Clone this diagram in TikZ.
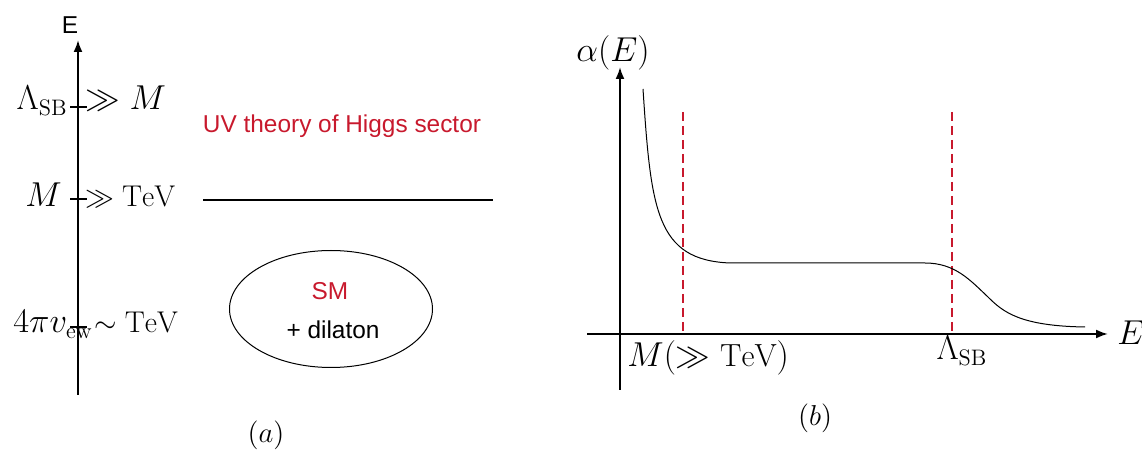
\documentclass[tikz,border=0pt]{standalone}
\usepackage{fontspec}
\newfontfamily\sansfont{Liberation Sans}
\usetikzlibrary{arrows.meta,shapes.geometric}
\definecolor{uvred}{RGB}{200,25,45}
\tikzset{
  axis/.style={line width=1pt,-{Latex[length=6pt,width=4.5pt]}},
  mathlabel/.style={inner sep=0pt,font=\fontsize{15}{18}\selectfont},
  biglabel/.style={inner sep=0pt,font=\fontsize{16}{19}\selectfont},
  textlabel/.style={inner sep=0pt,font=\sansfont\fontsize{12.2}{14}\selectfont},
  guide/.style={uvred,line width=0.8pt,dash pattern=on 4.5pt off 2.5pt},
}
\begin{document}
\begin{tikzpicture}[x=0.5pt,y=0.5pt]
  \useasboundingbox (0,0) rectangle (1142,450);
  % (a) energy axis
  \coordinate (ea0) at (78,55);
  \coordinate (ea1) at (78,410);
  \draw[axis] (ea0) -- (ea1);
  \node[textlabel] (elabel) at (70,425) {E};
  % ticks
  \foreach \y in {343,251,123}
    \draw[line width=0.6pt] (70,\y) -- (87,\y);
  % scales
  \node[biglabel,anchor=base east] (lsb) at (68,340) {$\Lambda_{\mathrm{SB}}$};
  \node[biglabel,anchor=base west] (lsbm) at (85,340) {$\gg M$};
  \node[biglabel,anchor=base east] (mlab) at (62,243) {$M$};
  \node[mathlabel,anchor=base west] (mtev) at (85,243) {$\gg \mathrm{TeV}$};
  \node[biglabel,anchor=base east] (vew) at (93,117) {$4\pi v_{\mathrm{ew}}$};
  \node[mathlabel,anchor=base west] (vtev) at (94,117) {$\sim \mathrm{TeV}$};
  % UV theory above the cut
  \node[textlabel,uvred] (uvth) at (342,324) {UV theory of Higgs sector};
  \coordinate (cut0) at (203,250);
  \coordinate (cut1) at (493,250);
  \draw[line width=1.3pt] (cut0) -- (cut1);
  % low energy theory
  \node[draw,ellipse,line width=0.5pt,minimum width=101.5pt,minimum height=58.5pt,inner sep=0pt] (smbox) at (331,141) {};
  \node[textlabel,uvred] (sm) at (330,159) {SM};
  \node[textlabel] (dil) at (333,120) {+ dilaton};
  \node[mathlabel] (capa) at (266,15) {$(a)$};
  % (b) running coupling
  \coordinate (ha0) at (587,116);
  \coordinate (ha1) at (1108,116);
  \coordinate (va0) at (620,60);
  \coordinate (va1) at (620,383);
  \draw[axis] (ha0) -- (ha1);
  \draw[axis] (va0) -- (va1);
  \node[biglabel] (alpha) at (613,397) {$\alpha(E)$};
  \node[biglabel,anchor=west] (elab) at (1117,117) {$E$};
  % thresholds
  \coordinate (mtop) at (683,338);
  \coordinate (mbot) at (683,116);
  \coordinate (ltop) at (952,338);
  \coordinate (lbot) at (952,116);
  \draw[guide] (mtop) -- (mbot);
  \draw[guide] (ltop) -- (lbot);
  \node[biglabel,anchor=base west] (mth) at (627,83) {$M(\gg\mathrm{TeV})$};
  \node[biglabel,anchor=base] (lth) at (962,90) {$\Lambda_{\mathrm{SB}}$};
  % coupling
  \draw[line width=0.5pt] (643,361) .. controls (651,240) and (656,190) .. (730,187)
    -- (925,187) .. controls (955,187) and (970,170) .. (988,153)
    .. controls (1003,138) and (1020,124) .. (1085,123);
  \node[mathlabel] (capb) at (815,32) {$(b)$};
\end{tikzpicture}
\end{document}
